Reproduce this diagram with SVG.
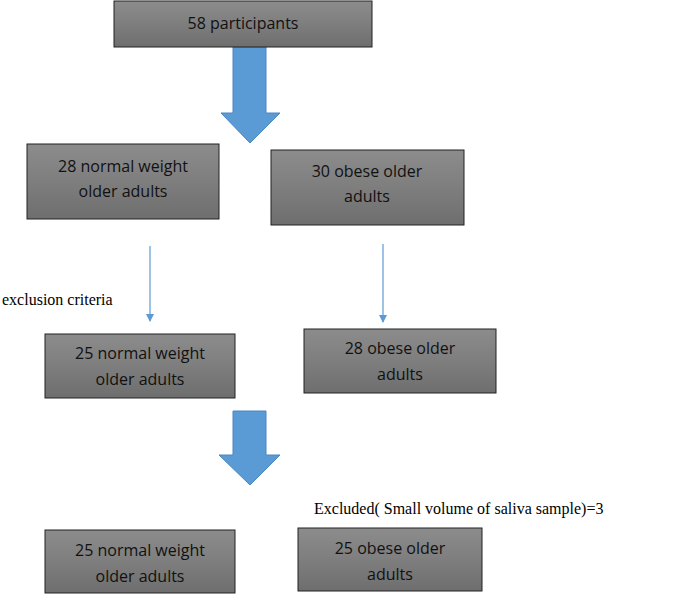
<svg xmlns="http://www.w3.org/2000/svg" width="685" height="603" viewBox="0 0 685 603">
<style>
.box{fill:url(#g);stroke:#222;stroke-width:1}
.t{font-family:"Open Sans","Liberation Sans",sans-serif;font-size:16px;fill:#111;text-anchor:middle}
.s{font-family:"Liberation Serif",serif;font-size:16px;fill:#000}
.thin{stroke:#5b9bd5;stroke-width:1.2;fill:none;marker-end:url(#m)}
.big{fill:#5b9bd5;stroke:#4a86c0;stroke-width:1}
</style>
<defs>
<linearGradient id="g" x1="0" y1="0" x2="0" y2="1"><stop offset="0" stop-color="#8c8c8c"/><stop offset="0.5" stop-color="#7e7e7e"/><stop offset="1" stop-color="#6e6e6e"/></linearGradient>
<marker id="m" markerWidth="8" markerHeight="8" refX="7" refY="4" orient="auto" markerUnits="userSpaceOnUse"><path d="M0,0 L8,4 L0,8 z" fill="#5b9bd5"/></marker>
</defs>
<rect width="685" height="603" fill="#fff"/>
<g id="connectors">
<path class="big" d="M233,47 H266 V113 H280 L250,143 L221,113 H233 z"/>
<path class="big" d="M233,411 H266 V455 H280 L250,485 L219,455 H233 z"/>
<line class="thin" x1="150" y1="246" x2="150" y2="321"/>
<line class="thin" x1="383" y1="244" x2="383" y2="322"/>
</g>
<g id="n1"><rect class="box" x="114" y="1" width="258" height="46"/><text class="t" x="243" y="29">58 participants</text></g>
<g id="n2"><rect class="box" x="27" y="144" width="192" height="75"/><text class="t" x="123" y="172">28 normal weight</text><text class="t" x="123" y="197">older adults</text></g>
<g id="n3"><rect class="box" x="271" y="150" width="193" height="75"/><text class="t" x="367" y="177">30 obese older</text><text class="t" x="367" y="202">adults</text></g>
<g id="n4"><rect class="box" x="45" y="334" width="190" height="64"/><text class="t" x="140" y="359">25 normal weight</text><text class="t" x="140" y="385">older adults</text></g>
<g id="n5"><rect class="box" x="304" y="329" width="192" height="64"/><text class="t" x="400" y="354">28 obese older</text><text class="t" x="400" y="380">adults</text></g>
<g id="n6"><rect class="box" x="45" y="530" width="190" height="63"/><text class="t" x="140" y="556">25 normal weight</text><text class="t" x="140" y="582">older adults</text></g>
<g id="n7"><rect class="box" x="298" y="528" width="184" height="63"/><text class="t" x="390" y="554">25 obese older</text><text class="t" x="390" y="580">adults</text></g>
<text class="s" x="2" y="305">exclusion criteria</text>
<text class="s" x="314" y="514">Excluded( Small volume of saliva sample)=3</text>
</svg>
